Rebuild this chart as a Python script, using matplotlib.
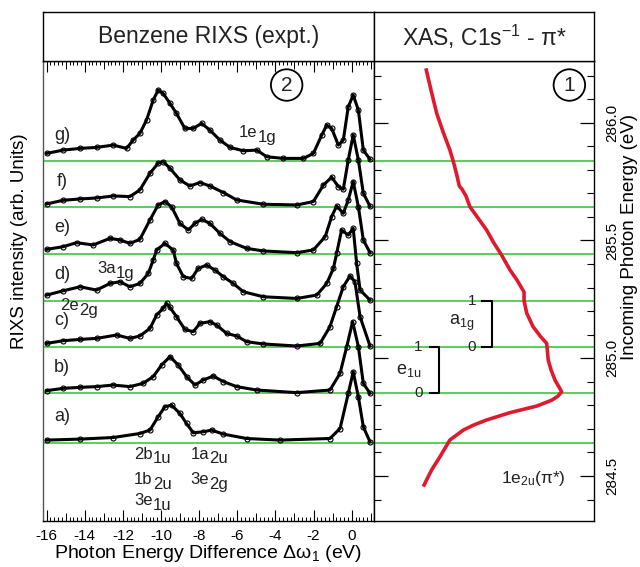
import matplotlib.pyplot as plt
from matplotlib.ticker import MultipleLocator, FixedLocator, NullFormatter

plt.rcParams["font.family"] = ["Liberation Sans", "DejaVu Sans"]
plt.rcParams["mathtext.fontset"] = "custom"
plt.rcParams["mathtext.rm"] = "Liberation Sans"
plt.rcParams["mathtext.it"] = "Liberation Sans"
plt.rcParams["mathtext.sf"] = "Liberation Sans"
plt.rcParams["mathtext.default"] = "regular"
plt.rcParams["text.color"] = "#222222"

# --- RIXS spectra: energy loss (eV) vs intensity (arb. units) ---
loss_a = [-16.00, -14.25, -12.51, -11.11, -10.58, -10.15, -9.80, -9.45, -9.01, -8.66, -8.31,
          -7.79, -7.35, -6.73, -5.51, -3.76, -1.14, -0.61, -0.18, 0.08, 0.35, 0.61, 0.96]
int_a = [2.7, 3.7, 5.3, 9.3, 12.7, 26, 36, 37.7, 29.3, 19.3, 10,
         11, 12.7, 8.7, 4.3, 2.7, 4.3, 14.3, 49.3, 71, 46, 16, 1]

loss_b = [-16.00, -15.13, -14.25, -13.38, -12.51, -11.63, -10.94, -10.41, -9.97, -9.53, -9.10,
          -8.66, -8.22, -7.79, -7.26, -6.73, -6.03, -4.98, -2.88, -1.14, -0.61, -0.26, 0.05,
          0.35, 0.61, 0.96]
int_b = [2.7, 5, 6, 6.7, 8.3, 6.7, 10, 16.7, 28.3, 36.7, 28.3,
         16.7, 8.3, 13.3, 17.3, 11.7, 6.7, 3.3, 0.7, 3.3, 20, 46.7, 71.7,
         46.7, 10, 0]

loss_c = [-16.00, -15.13, -14.25, -13.38, -12.33, -11.63, -11.11, -10.58, -10.23, -9.89, -9.71,
          -9.53, -9.19, -8.75, -8.31, -7.96, -7.44, -7.09, -6.56, -6.03, -5.51, -4.63, -2.88,
          -1.66, -1.14, -0.79, -0.44, -0.09, 0.17, 0.44, 0.96]
int_c = [3.3, 6, 7.3, 8.3, 11.7, 8.3, 10.7, 18.3, 31.7, 38.3, 43.3,
         39.3, 30, 17.3, 15, 23.3, 25, 21.7, 13.3, 10.7, 5, 2.7, 0.7,
         3.3, 20, 40, 60, 70.7, 65, 30, 0.7]

loss_d = [-16.00, -15.13, -14.25, -13.38, -12.68, -12.16, -11.63, -11.11, -10.67, -10.41, -10.23,
          -9.80, -9.36, -9.19, -8.83, -8.40, -8.05, -7.61, -7.17, -6.73, -6.21, -5.68, -4.63,
          -2.88, -1.83, -1.31, -0.96, -0.79, -0.53, -0.18, 0.08, 0.26, 0.44, 0.96]
int_d = [5.7, 10, 14, 10.7, 17.3, 19, 14, 17.3, 27.3, 40.7, 50.7,
         57.4, 50.7, 37.3, 24, 22.3, 32.3, 35.7, 30.7, 24, 17.3, 9, 4,
         2.3, 5.7, 17.3, 32.3, 47.3, 70.7, 65.7, 72.4, 37.3, 10.7, 0.7]

loss_e = [-16.00, -15.13, -14.43, -13.56, -12.68, -12.16, -11.63, -11.11, -10.58, -10.15, -9.80,
          -9.45, -9.01, -8.57, -8.22, -7.87, -7.44, -6.91, -6.38, -5.51, -4.63, -2.88, -2.01,
          -1.39, -1.05, -0.79, -0.44, -0.18, 0.08, 0.35, 0.61, 0.96]
int_e = [4.3, 7, 11, 8.7, 15.3, 13.7, 10.3, 14.3, 33.7, 48.7, 52,
         47, 30.3, 23.7, 30.3, 34.3, 30.3, 20.3, 12, 5.3, 2.7, 1, 3.7,
         17, 37, 47.7, 40.3, 53.7, 72, 47, 13.7, 1]

loss_f = [-16.00, -15.13, -14.25, -13.38, -12.51, -11.63, -11.11, -10.58, -10.15, -9.89, -9.53,
          -9.01, -8.49, -7.96, -7.44, -6.73, -6.03, -4.63, -2.88, -2.01, -1.48, -1.05, -0.70,
          -0.44, -0.18, 0.08, 0.35, 0.61, 0.96]
int_f = [3.3, 7, 8.3, 9.3, 11.3, 10.7, 17.3, 34, 44, 45.7, 39,
         27.3, 21.3, 24.7, 21.3, 14.7, 7.3, 3, 2.3, 5.7, 22.3, 30, 20.7,
         18, 47.3, 72.3, 47.3, 14, 1]

loss_g = [-16.00, -15.13, -14.25, -13.38, -12.51, -11.81, -11.46, -11.11, -10.76, -10.41, -10.15,
          -9.89, -9.53, -9.19, -8.75, -8.31, -7.87, -7.44, -6.91, -6.38, -5.68, -4.98, -4.45,
          -3.58, -2.53, -2.01, -1.57, -1.31, -1.05, -0.70, -0.44, -0.18, 0.08, 0.35, 0.61, 0.96]
int_g = [7.7, 11, 12.7, 13.7, 16, 12.7, 21, 27.7, 41, 61, 71,
         67.7, 57.7, 47.7, 32.7, 32.7, 37.7, 31, 21, 13.7, 10.3, 11, 4.3,
         2.7, 2.7, 7.7, 26, 36, 32.7, 16, 21, 54.3, 66, 51, 11, 1.7]

spec_labels = ["a)", "b)", "c)", "d)", "e)", "f)", "g)"]
# incoming photon energies (eV) at which each spectrum was taken
excitation = [284.641, 284.851, 285.049, 285.244, 285.444, 285.641, 285.837]

# --- XAS, C1s -> pi* ---
xas_energy = [286.231, 286.139, 286.040, 285.961, 285.884, 285.837, 285.791, 285.731, 285.718,
              285.689, 285.643, 285.595, 285.544, 285.489, 285.438, 285.375, 285.332, 285.281,
              285.244, 285.192, 285.134, 285.090, 285.063, 284.992, 284.950, 284.907, 284.858,
              284.839, 284.822, 284.797, 284.769, 284.738, 284.716, 284.695, 284.653, 284.582,
              284.526, 284.455]
xas_intensity = [0.236, 0.259, 0.285, 0.314, 0.345, 0.360, 0.373, 0.388, 0.400,
                 0.418, 0.436, 0.473, 0.512, 0.545, 0.580, 0.618, 0.650, 0.682,
                 0.682, 0.694, 0.723, 0.759, 0.785, 0.792, 0.805, 0.823, 0.853,
                 0.836, 0.808, 0.740, 0.618, 0.512, 0.452, 0.406, 0.345, 0.300,
                 0.262, 0.224]

# orbital assignments: (loss, photon energy, label, subscript)
orbitals = [(-4.98, 285.955, "1e", "1g"), (-12.42, 285.375, "3a", "1g"),
            (-14.34, 285.219, "2e", "2g"), (-10.49, 284.589, "2b", "1u"),
            (-7.52, 284.589, "1a", "2u"), (-10.49, 284.48, "1b", "2u"),
            (-7.52, 284.48, "3e", "2g"), (-10.49, 284.39, "3e", "1u")]

spectra = [(loss_a, int_a), (loss_b, int_b), (loss_c, int_c), (loss_d, int_d),
           (loss_e, int_e), (loss_f, int_f), (loss_g, int_g)]

INT_TO_EV = 1 / 235.5      # vertical scale of the RIXS traces
E_LIM = (284.309, 286.262)
GREEN = "#2fbf2f"
RED = "#e01a2e"

W, H = 640, 567


def px_box(x0, y0, x1, y1):
    return [x0 / W, 1 - y1 / H, (x1 - x0) / W, (y1 - y0) / H]


def orbital_label(ax, x, y, main, sub, size=12):
    ax.text(x + 0.05, y + 0.004, main, fontsize=size, ha="right", va="center")
    ax.annotate(sub, (x + 0.05, y + 0.004), xytext=(0, -3.5), textcoords="offset points",
                fontsize=size, ha="left", va="center")


fig = plt.figure(figsize=(W / 100, H / 100), dpi=100)
ax = fig.add_axes(px_box(43, 61, 374, 521))
ax2 = fig.add_axes(px_box(374, 61, 594, 521))
hd1 = fig.add_axes(px_box(43, 12, 374, 61))
hd2 = fig.add_axes(px_box(374, 12, 594, 61))

for h, title in [(hd1, "Benzene RIXS (expt.)"), (hd2, "XAS, C1s$^{-1}$ - $\\pi$*")]:
    h.set_xticks([])
    h.set_yticks([])
    for s in h.spines.values():
        s.set_linewidth(1.0)
    h.text(0.5, 0.5, title, ha="center", va="center", fontsize=16.5, transform=h.transAxes)

# RIXS panel
for base in excitation:
    ax.axhline(base, color=GREEN, lw=1.1, zorder=1)
    ax2.axhline(base, color=GREEN, lw=1.1, zorder=1)

for (loss, inten), base, lab in zip(spectra, excitation, spec_labels):
    ax.plot(loss, [base + v * INT_TO_EV for v in inten], "-o", color="k", lw=2.2,
            ms=3.6, mfc="none", mec="k", mew=0.8, zorder=3)
    ax.text(-15.2, base + 0.11, lab, fontsize=13, ha="center", va="center")

for x, y, main, sub in orbitals:
    orbital_label(ax, x, y, main, sub)

ax.set_xlim(-16.19, 1.17)
ax.set_ylim(*E_LIM)
ax.set_yticks([])
ax.xaxis.set_major_locator(MultipleLocator(2))
ax.xaxis.set_minor_locator(MultipleLocator(0.2))
ax.xaxis.set_major_formatter(lambda v, p: f"{v:.0f}")
ax.tick_params(axis="x", which="major", direction="in", length=8, width=0.8,
               top=True, labelsize=11, pad=6)
ax.tick_params(axis="x", which="minor", direction="in", length=3, width=0.7, top=True)
for where in ("bottom", "top"):
    sec = ax.secondary_xaxis(where)
    sec.xaxis.set_major_locator(FixedLocator(list(range(-15, 2, 2))))
    sec.xaxis.set_major_formatter(NullFormatter())
    sec.tick_params(direction="in", length=5.5, width=0.7)
    sec.spines[where].set_visible(False)
ax.spines["left"].set_color("#555555")
for s in ax.spines.values():
    s.set_linewidth(1.0)

ax.set_xlabel("Photon Energy Difference Δω$_1$ (eV)", fontsize=14, labelpad=0)
ax.set_ylabel("RIXS intensity (arb. Units)", fontsize=13.5)
ax.yaxis.set_label_coords(-0.045, 0.609)

ax.text(-3.41, 286.16, "2", fontsize=15, ha="center", va="center",
        bbox=dict(boxstyle="circle,pad=0.3", fc="white", ec="k", lw=1.3))

# XAS panel
ax2.plot(xas_intensity, xas_energy, color=RED, lw=2.6, solid_capstyle="butt", zorder=3)
ax2.set_xlim(0, 1)
ax2.set_ylim(*E_LIM)
ax2.set_xticks([])
ax2.yaxis.set_major_locator(MultipleLocator(0.5))
ax2.yaxis.set_minor_locator(MultipleLocator(0.1))
ax2.yaxis.set_major_formatter(lambda v, p: f"{v:.1f}")
ax2.tick_params(axis="y", which="major", direction="in", length=10, width=0.9,
                left=True, right=True, labelleft=False, labelright=True, labelsize=11,
                labelrotation=90, pad=8)
ax2.tick_params(axis="y", which="minor", direction="in", length=5, width=0.8,
                left=True, right=True)
for t in ax2.get_yticklabels():
    t.set_va("center")
for s in ax2.spines.values():
    s.set_linewidth(1.0)
ax2.yaxis.set_label_position("right")
ax2.set_ylabel("Incoming Photon Energy (eV)", fontsize=13.5)
ax2.yaxis.set_label_coords(1.125, 0.618)

ax2.text(0.888, 286.16, "1", fontsize=15, ha="center", va="center",
         bbox=dict(boxstyle="circle,pad=0.3", fc="white", ec="k", lw=1.3))

# vibrational progressions
a1g_lo, a1g_hi = excitation[2], excitation[3]
e1u_lo, e1u_hi = excitation[1], excitation[2]
ax2.plot([0.49, 0.536, 0.536, 0.49], [a1g_hi, a1g_hi, a1g_lo, a1g_lo], color="k", lw=1.5)
ax2.plot([0.255, 0.295, 0.295, 0.255], [e1u_hi, e1u_hi, e1u_lo, e1u_lo], color="k", lw=1.5)
for x, y, s in [(0.444, a1g_hi, "1"), (0.444, a1g_lo, "0"),
                (0.201, e1u_hi, "1"), (0.201, e1u_lo, "0")]:
    ax2.text(x, y, s, fontsize=11, ha="center", va="center")
ax2.text(0.399, 285.148, "a$_{1g}$", fontsize=13, ha="center", va="center")
ax2.text(0.156, 284.95, "e$_{1u}$", fontsize=13, ha="center", va="center")
ax2.text(0.724, 284.49, "1e$_{2u}$($\\pi$*)", fontsize=12.5, ha="center", va="center")

fig.savefig("out.png", dpi=100)
